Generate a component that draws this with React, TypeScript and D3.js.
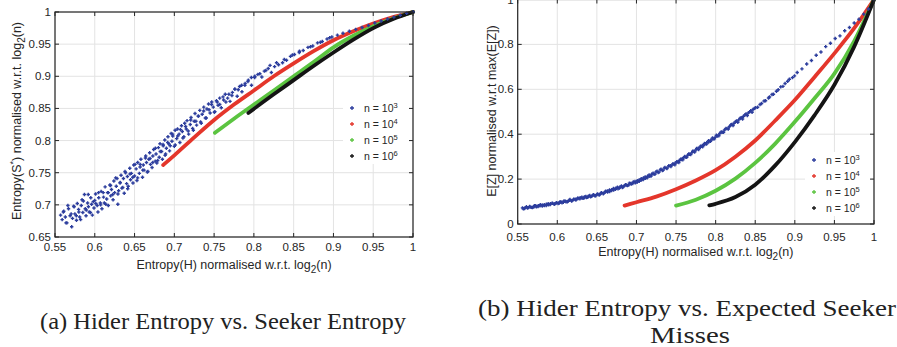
import React from 'react';
import * as d3 from 'd3';

// tick values
const xTicks = [0.55, 0.6, 0.65, 0.7, 0.75, 0.8, 0.85, 0.9, 0.95, 1];
const entropyTicks = [0.65, 0.7, 0.75, 0.8, 0.85, 0.9, 0.95, 1];
const missTicks = [0, 0.2, 0.4, 0.6, 0.8, 1];
const exponents = ['3', '4', '5', '6'];
const colors = ['#2c3d9d', '#e4362b', '#5bc440', '#141414'];

// (a) hider entropy vs seeker entropy, n = 10^3 (scattered)
const seekerN3: [number, number][] = [
  [0.557, 0.684], [0.559, 0.677], [0.561, 0.69], [0.563, 0.681], [0.565, 0.672], [0.567, 0.694],
  [0.569, 0.683], [0.571, 0.666], [0.572, 0.679], [0.574, 0.697], [0.575, 0.686], [0.577, 0.676],
  [0.578, 0.702], [0.58, 0.689], [0.581, 0.681], [0.583, 0.699], [0.584, 0.708], [0.585, 0.688],
  [0.587, 0.716], [0.588, 0.694], [0.589, 0.683], [0.591, 0.703], [0.592, 0.697], [0.593, 0.689],
  [0.595, 0.711], [0.596, 0.701], [0.597, 0.684], [0.599, 0.695], [0.6, 0.707], [0.601, 0.717],
  [0.603, 0.699], [0.604, 0.689], [0.605, 0.711], [0.607, 0.703], [0.608, 0.721], [0.609, 0.694],
  [0.611, 0.712], [0.612, 0.703], [0.613, 0.728], [0.615, 0.709], [0.616, 0.719], [0.617, 0.699],
  [0.619, 0.731], [0.62, 0.714], [0.621, 0.724], [0.623, 0.708], [0.624, 0.737], [0.625, 0.719],
  [0.627, 0.729], [0.628, 0.741], [0.629, 0.701], [0.63, 0.722], [0.632, 0.735], [0.633, 0.746],
  [0.634, 0.726], [0.636, 0.741], [0.637, 0.718], [0.638, 0.752], [0.64, 0.733], [0.641, 0.744],
  [0.642, 0.729], [0.644, 0.757], [0.645, 0.739], [0.646, 0.749], [0.648, 0.734], [0.649, 0.762],
  [0.65, 0.745], [0.652, 0.756], [0.653, 0.738], [0.654, 0.766], [0.656, 0.749], [0.657, 0.759],
  [0.658, 0.771], [0.66, 0.743], [0.661, 0.762], [0.662, 0.754], [0.664, 0.776], [0.665, 0.766],
  [0.666, 0.751], [0.668, 0.771], [0.669, 0.781], [0.67, 0.763], [0.672, 0.758], [0.673, 0.776],
  [0.674, 0.786], [0.676, 0.768], [0.677, 0.779], [0.678, 0.765], [0.68, 0.789], [0.681, 0.774],
  [0.682, 0.795], [0.684, 0.783], [0.685, 0.771], [0.686, 0.792], [0.688, 0.801], [0.689, 0.779],
  [0.69, 0.788], [0.692, 0.806], [0.693, 0.795], [0.694, 0.784], [0.696, 0.811], [0.697, 0.799],
  [0.698, 0.807], [0.7, 0.791], [0.701, 0.816], [0.703, 0.803], [0.704, 0.818], [0.706, 0.81],
  [0.707, 0.797], [0.709, 0.823], [0.71, 0.814], [0.712, 0.806], [0.713, 0.827], [0.715, 0.818],
  [0.716, 0.831], [0.718, 0.81], [0.72, 0.825], [0.721, 0.836], [0.723, 0.819], [0.725, 0.83],
  [0.726, 0.842], [0.728, 0.824], [0.73, 0.838], [0.732, 0.847], [0.733, 0.829], [0.735, 0.841],
  [0.737, 0.852], [0.739, 0.835], [0.741, 0.849], [0.743, 0.857], [0.745, 0.843], [0.747, 0.86],
  [0.749, 0.852], [0.751, 0.845], [0.753, 0.862], [0.755, 0.855], [0.757, 0.866], [0.759, 0.851],
  [0.762, 0.863], [0.764, 0.872], [0.767, 0.866], [0.77, 0.861], [0.773, 0.875], [0.776, 0.88],
  [0.779, 0.869], [0.782, 0.884], [0.785, 0.876], [0.789, 0.889], [0.793, 0.894], [0.797, 0.886],
  [0.801, 0.898], [0.805, 0.903], [0.81, 0.899], [0.815, 0.909], [0.818, 0.912], [0.822, 0.906],
  [0.826, 0.915], [0.831, 0.918], [0.836, 0.921], [0.841, 0.925], [0.846, 0.931], [0.851, 0.934],
  [0.857, 0.937], [0.862, 0.94], [0.868, 0.945], [0.874, 0.947], [0.88, 0.952], [0.886, 0.954],
  [0.892, 0.958], [0.898, 0.961], [0.905, 0.964], [0.912, 0.967], [0.92, 0.97], [0.928, 0.973],
  [0.936, 0.976], [0.944, 0.979], [0.952, 0.983], [0.96, 0.986], [0.968, 0.989], [0.976, 0.992],
  [0.984, 0.995], [0.992, 0.998], [1.0, 1.0],
  [0.5605, 0.689], [0.5638, 0.672], [0.5662, 0.699], [0.5703, 0.686], [0.5734, 0.698], [0.5768, 0.683],
  [0.5796, 0.693], [0.5822, 0.677], [0.5857, 0.706], [0.5893, 0.692], [0.5918, 0.716], [0.5946, 0.688],
  [0.5981, 0.705], [0.6013, 0.702], [0.6047, 0.719], [0.6074, 0.7], [0.6106, 0.719], [0.6139, 0.701],
  [0.6171, 0.719], [0.6198, 0.73], [0.6226, 0.716], [0.6262, 0.742], [0.6291, 0.717], [0.6318, 0.734],
  [0.6352, 0.727], [0.6387, 0.75], [0.6414, 0.725], [0.6443, 0.748], [0.6478, 0.743], [0.6506, 0.763],
  [0.6539, 0.742], [0.6571, 0.763], [0.6603, 0.754], [0.6637, 0.773], [0.6668, 0.752], [0.6695, 0.772],
  [0.6729, 0.766], [0.6762, 0.788], [0.6791, 0.769], [0.6823, 0.783], [0.6858, 0.794], [0.6884, 0.777],
  [0.6917, 0.797], [0.6948, 0.792], [0.6979, 0.81], [0.7011, 0.793], [0.7043, 0.807], [0.7077, 0.817],
  [0.7108, 0.804], [0.7142, 0.822], [0.7174, 0.815], [0.7206, 0.832], [0.7239, 0.816], [0.7271, 0.83],
  [0.7304, 0.838], [0.7338, 0.827], [0.7369, 0.846], [0.7402, 0.835], [0.7436, 0.848], [0.7468, 0.856],
  [0.7503, 0.844], [0.7539, 0.86], [0.7571, 0.856], [0.7612, 0.868], [0.7648, 0.86], [0.7686, 0.872],
  [0.7724, 0.87], [0.7761, 0.88], [0.7803, 0.879], [0.7846, 0.886], [0.7887, 0.886], [0.7925, 0.892],
  [0.7968, 0.898], [0.8012, 0.9], [0.8075, 0.904], [0.8131, 0.908], [0.8203, 0.917], [0.8285, 0.921],
  [0.8382, 0.926], [0.8484, 0.933], [0.8573, 0.939], [0.8712, 0.946], [0.8836, 0.953], [0.8953, 0.96],
];
const seekerN4: [number, number][] = [
  [0.686, 0.762], [0.7, 0.777], [0.725, 0.805], [0.75, 0.832], [0.775, 0.856], [0.8, 0.878],
  [0.825, 0.9], [0.85, 0.92], [0.875, 0.939], [0.9, 0.956], [0.925, 0.97], [0.95, 0.982],
  [0.975, 0.992], [1, 1],
];
const seekerN5: [number, number][] = [
  [0.751, 0.812], [0.775, 0.834], [0.8, 0.856], [0.825, 0.878], [0.85, 0.9], [0.875, 0.922],
  [0.9, 0.945], [0.925, 0.963], [0.95, 0.978], [0.975, 0.99], [1, 1],
];
const seekerN6: [number, number][] = [
  [0.793, 0.843], [0.825, 0.872], [0.85, 0.894], [0.875, 0.916], [0.9, 0.937], [0.925, 0.957],
  [0.95, 0.975], [0.975, 0.989], [1, 1],
];

// (b) hider entropy vs expected seeker misses
const missN3: [number, number][] = [
  [0.556, 0.072], [0.5585, 0.069], [0.561, 0.077], [0.5635, 0.073], [0.566, 0.075], [0.5685, 0.073],
  [0.571, 0.081], [0.5735, 0.077], [0.576, 0.081], [0.5785, 0.086], [0.581, 0.08], [0.5835, 0.086],
  [0.586, 0.082], [0.5885, 0.09], [0.591, 0.087], [0.5935, 0.093], [0.596, 0.088], [0.5985, 0.094],
  [0.601, 0.091], [0.6035, 0.099], [0.606, 0.094], [0.6085, 0.103], [0.611, 0.099], [0.6135, 0.101],
  [0.616, 0.109], [0.6185, 0.104], [0.621, 0.111], [0.6235, 0.107], [0.626, 0.116], [0.6285, 0.112],
  [0.631, 0.119], [0.6335, 0.115], [0.636, 0.123], [0.6385, 0.119], [0.641, 0.127], [0.6435, 0.123],
  [0.646, 0.131], [0.6485, 0.126], [0.651, 0.134], [0.6535, 0.131], [0.656, 0.139], [0.6585, 0.137],
  [0.661, 0.146], [0.6635, 0.142], [0.666, 0.152], [0.6685, 0.149], [0.671, 0.158], [0.6735, 0.155],
  [0.676, 0.164], [0.6785, 0.16], [0.681, 0.17], [0.6835, 0.166], [0.686, 0.175], [0.6885, 0.171],
  [0.691, 0.182], [0.6935, 0.178], [0.696, 0.187], [0.6985, 0.183], [0.701, 0.193], [0.7035, 0.19],
  [0.706, 0.202], [0.7085, 0.198], [0.711, 0.21], [0.7135, 0.206], [0.716, 0.218], [0.7185, 0.214],
  [0.721, 0.226], [0.7235, 0.222], [0.726, 0.235], [0.7285, 0.231], [0.731, 0.244], [0.7335, 0.239],
  [0.736, 0.252], [0.7385, 0.247], [0.741, 0.26], [0.7435, 0.256], [0.746, 0.268], [0.7485, 0.264],
  [0.751, 0.277], [0.7535, 0.274], [0.756, 0.289], [0.7585, 0.286], [0.761, 0.301], [0.7635, 0.297],
  [0.766, 0.312], [0.7685, 0.309], [0.771, 0.324], [0.7735, 0.321], [0.776, 0.336], [0.7785, 0.332],
  [0.781, 0.347], [0.7835, 0.344], [0.786, 0.359], [0.7885, 0.356], [0.791, 0.371], [0.7935, 0.368],
  [0.796, 0.383], [0.7985, 0.379], [0.801, 0.395], [0.804, 0.393], [0.807, 0.41], [0.81, 0.408],
  [0.813, 0.426], [0.816, 0.423], [0.819, 0.441], [0.822, 0.438], [0.825, 0.455], [0.828, 0.453],
  [0.831, 0.471], [0.834, 0.468], [0.837, 0.486], [0.84, 0.483], [0.843, 0.5], [0.846, 0.498],
  [0.849, 0.515], [0.853, 0.52], [0.858, 0.537], [0.863, 0.549], [0.868, 0.566], [0.873, 0.578],
  [0.879, 0.598], [0.885, 0.613], [0.891, 0.636], [0.897, 0.652], [0.903, 0.675], [0.909, 0.691],
  [0.915, 0.713], [0.921, 0.728], [0.927, 0.752], [0.933, 0.766], [0.939, 0.79], [0.945, 0.805],
  [0.951, 0.826], [0.957, 0.838], [0.963, 0.861], [0.969, 0.875], [0.975, 0.895], [0.981, 0.912],
  [0.987, 0.935], [0.993, 0.958], [1.0, 1.0],
  [0.5572, 0.068], [0.5597, 0.073], [0.5624, 0.071], [0.5651, 0.078], [0.5677, 0.074], [0.5703, 0.076],
  [0.5728, 0.082], [0.5756, 0.078], [0.5782, 0.081], [0.5809, 0.085], [0.5836, 0.082], [0.5862, 0.088],
  [0.5889, 0.085], [0.5913, 0.09], [0.5941, 0.092], [0.5968, 0.089], [0.5993, 0.095], [0.6022, 0.092],
  [0.6048, 0.098], [0.6076, 0.097], [0.6103, 0.102], [0.6127, 0.099], [0.6153, 0.106], [0.6181, 0.102],
  [0.6208, 0.109], [0.6233, 0.11], [0.6262, 0.113], [0.6288, 0.117], [0.6314, 0.114], [0.6342, 0.12],
  [0.6368, 0.118], [0.6393, 0.124], [0.6421, 0.121], [0.6447, 0.128], [0.6474, 0.126], [0.6501, 0.132],
  [0.6528, 0.129], [0.6553, 0.138], [0.6581, 0.135], [0.6607, 0.142], [0.6633, 0.147], [0.6661, 0.145],
  [0.6688, 0.153], [0.6712, 0.151], [0.6741, 0.16], [0.6767, 0.157], [0.6793, 0.165], [0.6822, 0.162],
  [0.6848, 0.171], [0.6873, 0.174], [0.6902, 0.173], [0.6927, 0.181], [0.6953, 0.18], [0.6981, 0.189],
  [0.7008, 0.186], [0.7034, 0.196], [0.7062, 0.196], [0.7088, 0.205], [0.7113, 0.204], [0.7141, 0.213],
  [0.7168, 0.212], [0.7193, 0.222], [0.7222, 0.221], [0.7247, 0.232], [0.7274, 0.229], [0.7301, 0.241],
  [0.7327, 0.238], [0.7352, 0.249], [0.7381, 0.249], [0.7407, 0.258], [0.7432, 0.26], [0.7461, 0.266],
  [0.7487, 0.271], [0.7512, 0.276], [0.7541, 0.283], [0.7566, 0.287], [0.7593, 0.295], [0.7621, 0.298],
  [0.7647, 0.307], [0.7672, 0.311], [0.7701, 0.318], [0.7727, 0.324], [0.7752, 0.33], [0.7781, 0.338],
  [0.7806, 0.342], [0.7833, 0.35], [0.7861, 0.354], [0.7887, 0.362], [0.7912, 0.365], [0.7941, 0.374],
  [0.7967, 0.378], [0.7993, 0.386], [0.8022, 0.392], [0.8052, 0.403], [0.8083, 0.409], [0.8112, 0.419],
  [0.8143, 0.425], [0.8172, 0.433], [0.8203, 0.443], [0.8232, 0.449], [0.8263, 0.459], [0.8292, 0.464],
  [0.8323, 0.474], [0.8352, 0.48], [0.8383, 0.49], [0.8412, 0.495], [0.8443, 0.505], [0.8472, 0.51],
  [0.8503, 0.518], [0.8561, 0.532], [0.8612, 0.548], [0.8668, 0.561], [0.8712, 0.577], [0.8768, 0.591],
  [0.8822, 0.611], [0.8877, 0.626], [0.8931, 0.645], [0.8996, 0.66],
];
const missN4: [number, number][] = [
  [0.685, 0.082], [0.7, 0.097], [0.725, 0.122], [0.75, 0.155], [0.775, 0.194], [0.8, 0.24],
  [0.825, 0.3], [0.85, 0.372], [0.875, 0.46], [0.9, 0.552], [0.925, 0.655], [0.95, 0.76],
  [0.975, 0.872], [1, 1],
];
const missN5: [number, number][] = [
  [0.75, 0.082], [0.775, 0.108], [0.8, 0.148], [0.825, 0.202], [0.85, 0.272], [0.875, 0.357],
  [0.9, 0.455], [0.925, 0.56], [0.95, 0.67], [0.975, 0.815], [1, 1],
];
const missN6: [number, number][] = [
  [0.792, 0.083], [0.8, 0.09], [0.825, 0.12], [0.85, 0.175], [0.875, 0.26], [0.9, 0.365],
  [0.925, 0.485], [0.95, 0.62], [0.975, 0.79], [1, 1],
];

const axisColor = '#262626';
const gridColor = '#e3e3e3';
const sans = '"Liberation Sans", Arial, Helvetica, sans-serif';

type Pt = [number, number];

function Plot(props: {
  left: number; right: number; top: number; bottom: number;
  yDomain: [number, number]; yTicks: number[];
  scatter: Pt[]; bands: Pt[][];
  legendX: number; legendY: number; legendW: number; legendH: number;
  yLabel: React.ReactNode; yLabelX: number; yLabelY: number;
  xTickY: number; xLabelY: number;
}) {
  const { left, right, top, bottom } = props;
  const x = d3.scaleLinear().domain([0.55, 1]).range([left, right]);
  const y = d3.scaleLinear().domain(props.yDomain).range([bottom, top]);
  const line = d3.line<Pt>().x(d => x(d[0])).y(d => y(d[1])).curve(d3.curveMonotoneX);
  const tk = 4;

  return (
    <g>
      {/* grid */}
      {xTicks.map(t => (
        <line key={'gx' + t} x1={x(t)} x2={x(t)} y1={top} y2={bottom} stroke={gridColor} strokeWidth={1} />
      ))}
      {props.yTicks.map(t => (
        <line key={'gy' + t} x1={left} x2={right} y1={y(t)} y2={y(t)} stroke={gridColor} strokeWidth={1} />
      ))}

      {/* dense series */}
      {props.bands.map((b, i) => (
        <path key={'b' + i} d={line(b) || ''} fill="none" stroke={colors[i + 1]}
          strokeWidth={3.8} strokeLinecap="round" strokeLinejoin="round" />
      ))}

      {/* scattered series */}
      {props.scatter.map((p, i) => {
        const cx = x(p[0]);
        const cy = y(p[1]);
        return (
          <path key={'s' + i} d={`M${cx - 1.7},${cy}H${cx + 1.7}M${cx},${cy - 1.7}V${cy + 1.7}`}
            stroke={colors[0]} strokeWidth={1.4} />
        );
      })}

      {/* legend */}
      <rect x={props.legendX} y={props.legendY} width={props.legendW} height={props.legendH} fill="#fff" />
      {exponents.map((e, i) => {
        const ly = props.legendY + 8 + i * 16;
        const mx = props.legendX + 9;
        return (
          <g key={'l' + e}>
            <path d={`M${mx - 2},${ly}H${mx + 2}M${mx},${ly - 2}V${ly + 2}`} stroke={colors[i]} strokeWidth={1.3} />
            <text x={mx + 12} y={ly + 4} fontSize={10.5} fontFamily={sans} fill={axisColor}>
              n = 10<tspan dy={-4.5} fontSize={7.5}>{e}</tspan>
            </text>
          </g>
        );
      })}

      {/* frame and ticks */}
      <rect x={left} y={top} width={right - left} height={bottom - top} fill="none" stroke={axisColor} strokeWidth={1.2} />
      {xTicks.map(t => (
        <g key={'tx' + t}>
          <line x1={x(t)} x2={x(t)} y1={bottom} y2={bottom - tk} stroke={axisColor} />
          <line x1={x(t)} x2={x(t)} y1={top} y2={top + tk} stroke={axisColor} />
          <text x={x(t)} y={props.xTickY} textAnchor="middle" fontSize={11.5} fontFamily={sans} fill={axisColor}>
            {String(t)}
          </text>
        </g>
      ))}
      {props.yTicks.map(t => (
        <g key={'ty' + t}>
          <line x1={left} x2={left + tk} y1={y(t)} y2={y(t)} stroke={axisColor} />
          <line x1={right} x2={right - tk} y1={y(t)} y2={y(t)} stroke={axisColor} />
          <text x={left - 4} y={y(t) + 4} textAnchor="end" fontSize={11.5} fontFamily={sans} fill={axisColor}>
            {String(t)}
          </text>
        </g>
      ))}

      <text x={(left + right) / 2} y={props.xLabelY} textAnchor="middle" fontSize={12.5} fontFamily={sans} fill={axisColor}>
        Entropy(H) normalised w.r.t. log<tspan dy={4} fontSize={10}>2</tspan><tspan dy={-4}>(n)</tspan>
      </text>
      <text transform={`translate(${props.yLabelX},${props.yLabelY}) rotate(-90)`} textAnchor="middle"
        fontSize={12.5} fontFamily={sans} fill={axisColor}>
        {props.yLabel}
      </text>
    </g>
  );
}

export default function App() {
  const serif = '"Liberation Serif", "Times New Roman", serif';
  return (
    <svg width={897} height={347} style={{ position: 'absolute', left: 0, top: 0, background: '#fff' }}>
      <rect width={897} height={347} fill="#fff" />
      <Plot
        left={55} right={413} top={12} bottom={237}
        yDomain={[0.65, 1]} yTicks={entropyTicks}
        scatter={seekerN3} bands={[seekerN4, seekerN5, seekerN6]}
        legendX={343} legendY={100} legendW={66} legendH={64}
        yLabel={<>Entropy(S<tspan dy={-5} fontSize={9}>*</tspan><tspan dy={5}>) normalised w.r.t. log</tspan><tspan dy={4} fontSize={10}>2</tspan><tspan dy={-4}>(n)</tspan></>}
        yLabelX={21} yLabelY={121}
        xTickY={251} xLabelY={269}
      />
      <Plot
        left={517.7} right={874} top={-0.5} bottom={224}
        yDomain={[0, 1]} yTicks={missTicks}
        scatter={missN3} bands={[missN4, missN5, missN6]}
        legendX={805} legendY={152} legendW={66} legendH={64}
        yLabel={<>E[Z] normalised w.r.t max(E[Z])</>}
        yLabelX={496} yLabelY={111}
        xTickY={241} xLabelY={256}
      />
      <text x={40} y={329} fontSize={23} fontFamily={serif} fill="#222" textLength={366} lengthAdjust="spacingAndGlyphs">
        (a) Hider Entropy vs. Seeker Entropy
      </text>
      <text x={478} y={316} fontSize={23} fontFamily={serif} fill="#222" textLength={418} lengthAdjust="spacingAndGlyphs">
        (b) Hider Entropy vs. Expected Seeker
      </text>
      <text x={690} y={343} textAnchor="middle" fontSize={23} fontFamily={serif} fill="#222" textLength={80} lengthAdjust="spacingAndGlyphs">
        Misses
      </text>
    </svg>
  );
}
